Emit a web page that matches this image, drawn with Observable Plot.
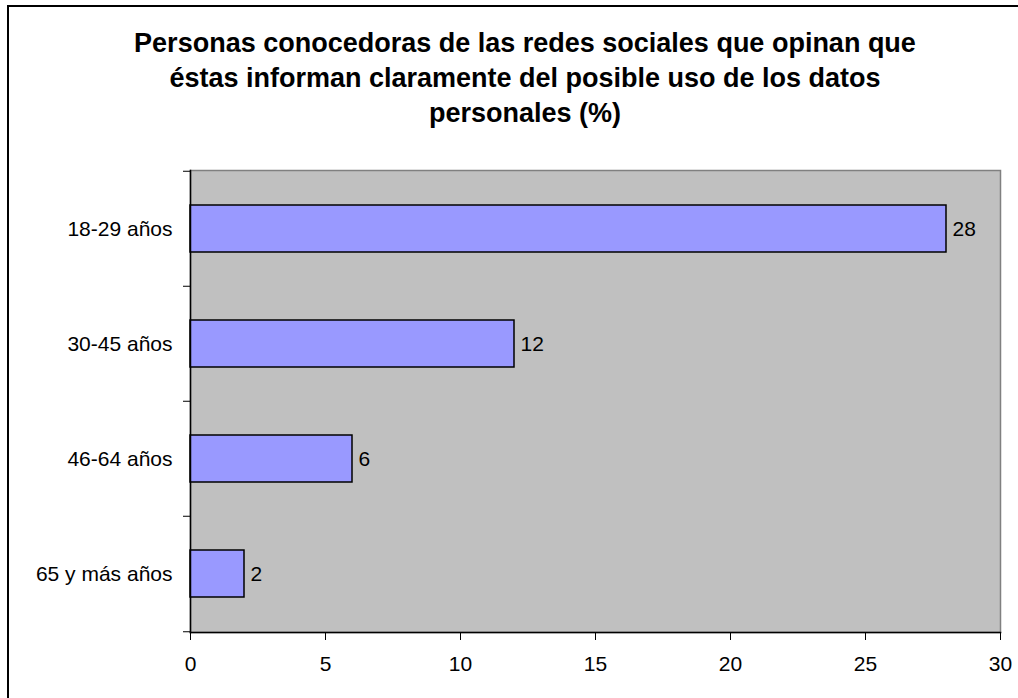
<!DOCTYPE html>
<html>
<head>
<meta charset="utf-8">
<script src="https://cdn.jsdelivr.net/npm/d3@7"></script>
<script src="https://cdn.jsdelivr.net/npm/@observablehq/plot@0.6"></script>
<style>
  html, body { margin: 0; padding: 0; background: white; overflow: hidden; width: 1018px; height: 698px; }
  #title { position: absolute; left: 0; top: 26px; width: 1050px; text-align: center;
           font-family: "Liberation Sans", Arial, sans-serif; font-weight: bold; font-size: 27px; line-height: 35px; color: black; }
  #chart { position: absolute; left: 0; top: 140px; }
  #frame { position: absolute; left: 7px; top: 5px; width: 1060px; height: 740px; border: 2px solid black; pointer-events: none; }
</style>
</head>
<body>
<div id="title">Personas conocedoras de las redes sociales que opinan que<br>éstas informan claramente del posible uso de los datos<br>personales (%)</div>
<div id="chart"></div>
<div id="frame"></div>
<script>
const categories = ["18-29 años", "30-45 años", "46-64 años", "65 y más años"];
const values = [28, 12, 6, 2];
const xTicks = [0, 5, 10, 15, 20, 25, 30];
const xDomain = [0, 30];

const data = categories.map((c, i) => ({cat: c, value: values[i]}));

const width = 1018, height = 558;
const marginTop = 30, marginBottom = 66, marginLeft = 190, marginRight = 18;
const step = (height - marginTop - marginBottom) / categories.length;

const chart = Plot.plot({
  width, height, marginTop, marginBottom, marginLeft, marginRight,
  style: {background: "transparent", fontFamily: "'Liberation Sans', Arial, sans-serif", fontSize: "21px", color: "black"},
  x: {domain: xDomain},
  y: {domain: categories, padding: 0},
  marks: [
    Plot.frame({fill: "#C0C0C0", stroke: "#808080", strokeWidth: 1.5}),
    Plot.barX(data, {x: "value", y: "cat", fill: "#9999FF", stroke: "black", strokeWidth: 1.5, insetTop: 34, insetBottom: 34}),
    Plot.text(data, {x: "value", y: "cat", text: d => String(d.value), textAnchor: "start", dx: 6, fill: "black"}),
    Plot.frame({anchor: "left", stroke: "black", strokeWidth: 1.5}),
    Plot.frame({anchor: "bottom", stroke: "black", strokeWidth: 1.5}),
    Plot.axisX({ticks: xTicks, tickSize: 8, tickPadding: 16, label: null, stroke: "black"}),
    Plot.axisY({tickSize: 0, tickPadding: 18, label: null}),
    Plot.axisY({tickSize: 7, tickFormat: () => "", label: null, dy: -step / 2, stroke: "black"}),
    Plot.axisY({ticks: [categories[categories.length - 1]], tickSize: 7, tickFormat: () => "", label: null, dy: step / 2, stroke: "black"})
  ]
});
document.getElementById("chart").appendChild(chart);
</script>
</body>
</html>
